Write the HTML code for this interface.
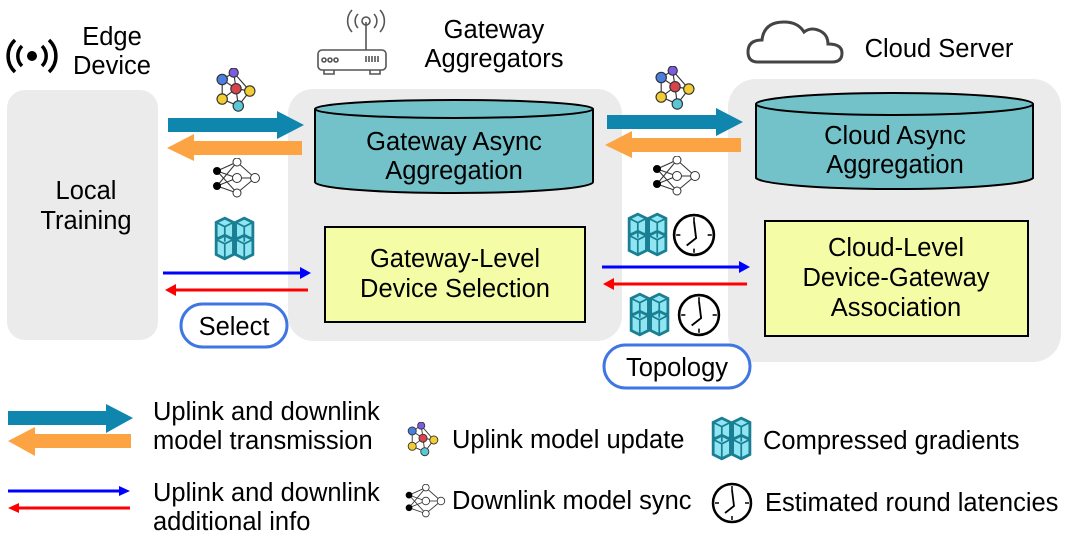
<!DOCTYPE html>
<html><head><meta charset="utf-8"><style>
html,body{margin:0;padding:0;background:#fff;}
svg text{font-family:"Liberation Sans",Arial,sans-serif;fill:#000;font-size:25.5px;}
</style></head><body>
<svg width="1066" height="537" viewBox="0 0 1066 537" xmlns="http://www.w3.org/2000/svg">
<defs>
<symbol id="cnet" viewBox="0 0 40 40">
<g stroke="#333" stroke-width="1" fill="none">
<line x1="8" y1="10" x2="20" y2="18"/><line x1="8" y1="10" x2="18" y2="4"/><line x1="18" y1="4" x2="20" y2="18"/><line x1="18" y1="4" x2="32" y2="20"/>
<line x1="20" y1="18" x2="32" y2="20"/><line x1="20" y1="18" x2="8" y2="27"/><line x1="20" y1="18" x2="22" y2="33"/><line x1="8" y1="27" x2="22" y2="33"/><line x1="32" y1="20" x2="22" y2="33"/><line x1="8" y1="10" x2="8" y2="27"/>
</g>
<g stroke="#333" stroke-width="1">
<circle cx="8" cy="10" r="4.5" fill="#4a7fe0"/><circle cx="18" cy="4" r="4" fill="#7b5be0"/><circle cx="20" cy="18" r="4.5" fill="#d9434b"/>
<circle cx="32" cy="20" r="4.5" fill="#f2cd32"/><circle cx="8" cy="27" r="4.5" fill="#f2cd32"/><circle cx="22" cy="33" r="4.5" fill="#5ac7d6"/>
</g></symbol>
<symbol id="bnet" viewBox="0 0 50 40">
<g stroke="#333" stroke-width="1" fill="none">
<line x1="6" y1="13" x2="26" y2="4"/><line x1="6" y1="13" x2="26" y2="20"/><line x1="6" y1="13" x2="26" y2="35"/>
<line x1="6" y1="28" x2="26" y2="4"/><line x1="6" y1="28" x2="26" y2="20"/><line x1="6" y1="28" x2="26" y2="35"/>
<line x1="26" y1="4" x2="44" y2="20"/><line x1="26" y1="20" x2="44" y2="20"/><line x1="26" y1="35" x2="44" y2="20"/>
</g>
<circle cx="6" cy="13" r="4" fill="#000"/><circle cx="6" cy="28" r="4" fill="#000"/>
<g fill="#fff" stroke="#333"><circle cx="26" cy="4" r="4"/><circle cx="26" cy="20" r="4.5"/><circle cx="26" cy="35" r="4"/><circle cx="44" cy="20" r="4.5"/></g>
</symbol>
<g id="cubesg">
<g stroke="#1a7f92" stroke-width="2.6" fill="#8fe6f2">
<path d="M2 6 L10 2 L18 6 L18 20 L10 24 L2 20 Z"/><path d="M20 6 L28 2 L36 6 L36 20 L28 24 L20 20 Z"/>
<path d="M2 22 L10 18 L18 22 L18 36 L10 40 L2 36 Z"/><path d="M20 22 L28 18 L36 22 L36 36 L28 40 L20 36 Z"/>
</g>
<g stroke="#1a7f92" stroke-width="1.6" fill="none">
<path d="M2 6 L10 10 L18 6 M10 10 V24"/><path d="M20 6 L28 10 L36 6 M28 10 V24"/><path d="M2 22 L10 26 L18 22 M10 26 V40"/><path d="M20 22 L28 26 L36 22 M28 26 V40"/>
</g></g>
<symbol id="clock" viewBox="0 0 42 42">
<circle cx="21" cy="21" r="19" fill="#fff" stroke="#000" stroke-width="2.5"/>
<g stroke="#000" stroke-width="1.5"><line x1="21" y1="4" x2="21" y2="8"/><line x1="21" y1="34" x2="21" y2="38"/><line x1="4" y1="21" x2="8" y2="21"/><line x1="34" y1="21" x2="38" y2="21"/></g>
<polyline points="21,8 23,24 14,31" fill="none" stroke="#000" stroke-width="1.8"/>
</symbol>
</defs>

<rect x="7" y="90" width="151" height="250" rx="18" fill="#ebebeb"/>
<rect x="288" y="89" width="334" height="252" rx="25" fill="#ebebeb"/>
<rect x="728" y="79" width="333" height="283" rx="28" fill="#ebebeb"/>

<circle cx="32" cy="56" r="5" fill="#000"/>
<path d="M22 46 A14 14 0 0 0 22 66 M42 46 A14 14 0 0 1 42 66" fill="none" stroke="#000" stroke-width="3.5"/>
<path d="M15 40 A22 22 0 0 0 15 72 M49 40 A22 22 0 0 1 49 72" fill="none" stroke="#000" stroke-width="3.5"/>
<text x="112" y="45" text-anchor="middle">Edge</text>
<text x="112" y="74" text-anchor="middle">Device</text>
<text x="86" y="199" text-anchor="middle">Local</text>
<text x="86" y="229" text-anchor="middle">Training</text>

<g fill="none" stroke="#555" stroke-width="1.6">
<rect x="318" y="50" width="68" height="20" rx="4"/>
<line x1="366" y1="22" x2="366" y2="50"/><circle cx="366" cy="21" r="4"/>
<path d="M358 14 A10 10 0 0 0 358 28 M374 14 A10 10 0 0 1 374 28 M352 10 A16 16 0 0 0 352 32 M380 10 A16 16 0 0 1 380 32"/>
<circle cx="324" cy="60" r="2"/><circle cx="330" cy="60" r="2"/><circle cx="336" cy="60" r="2"/>
<path d="M366 56 v6 M369 56 v6 M372 56 v6 M375 56 v6 M378 56 v6"/>
<path d="M324 70 v4 h10 v-4 M370 70 v4 h10 v-4"/>
</g>
<text x="494" y="38" text-anchor="middle">Gateway</text>
<text x="494" y="67" text-anchor="middle">Aggregators</text>

<path d="M758 62 Q748 62 748 52 Q748 40 762 40 Q764 22 784 22 Q798 22 804 32 Q812 26 822 32 Q828 36 828 44 Q842 44 842 53 Q842 62 832 62 Z" fill="none" stroke="#444" stroke-width="3"/>
<text x="939" y="57" text-anchor="middle">Cloud Server</text>

<path d="M315 109 V182 A139 11 0 0 0 593 182 V109" fill="#73c2c9" stroke="#000" stroke-width="2"/>
<ellipse cx="454" cy="109" rx="139" ry="9" fill="#73c2c9" stroke="#000" stroke-width="2"/>
<text x="454" y="150" text-anchor="middle">Gateway Async</text>
<text x="454" y="179" text-anchor="middle">Aggregation</text>

<path d="M756 104 V178 A139 12 0 0 0 1033 178 V104" fill="#73c2c9" stroke="#000" stroke-width="2"/>
<ellipse cx="894.5" cy="104" rx="138.5" ry="11" fill="#73c2c9" stroke="#000" stroke-width="2"/>
<text x="895" y="144" text-anchor="middle">Cloud Async</text>
<text x="895" y="173" text-anchor="middle">Aggregation</text>

<rect x="325" y="227" width="260" height="95" fill="#f5fca6" stroke="#000" stroke-width="2"/>
<text x="455" y="267" text-anchor="middle">Gateway-Level</text>
<text x="455" y="297" text-anchor="middle">Device Selection</text>
<rect x="765" y="221" width="263" height="115" fill="#f5fca6" stroke="#000" stroke-width="2"/>
<text x="896" y="256" text-anchor="middle">Cloud-Level</text>
<text x="896" y="286" text-anchor="middle">Device-Gateway</text>
<text x="896" y="316" text-anchor="middle">Association</text>

<polygon points="168,118 277,118 277,111 304,125 277,139 277,132 168,132" fill="#0e86ad"/>
<polygon points="302,141 194,141 194,134 167,148 194,161 194,155 302,155" fill="#fca443"/>
<polygon points="607,115 716,115 716,108 743,122 716,136 716,129 607,129" fill="#0e86ad"/>
<polygon points="741,138 632,138 632,131 605,145 632,158 632,152 741,152" fill="#fca443"/>

<line x1="163" y1="273" x2="301" y2="273" stroke="#0000ff" stroke-width="3"/><polygon points="300,267 311,273 300,279" fill="#0000ff"/>
<line x1="176" y1="290" x2="308" y2="290" stroke="#ff0000" stroke-width="3"/><polygon points="176,284 165,290 176,296" fill="#ff0000"/>
<line x1="602" y1="267" x2="740" y2="267" stroke="#0000ff" stroke-width="3"/><polygon points="739,261 750,267 739,273" fill="#0000ff"/>
<line x1="614" y1="284" x2="747" y2="284" stroke="#ff0000" stroke-width="3"/><polygon points="614,278 603,284 614,290" fill="#ff0000"/>

<use href="#cnet" x="212" y="68" width="48" height="46"/>
<use href="#bnet" x="211" y="158" width="50" height="40"/>
<use href="#cubesg" transform="translate(214,216) scale(1.08,1.07)"/>
<use href="#cnet" x="651" y="66" width="48" height="46"/>
<use href="#bnet" x="651" y="156" width="50" height="40"/>
<use href="#cubesg" transform="translate(627,212) scale(1.08,1.07)"/>
<use href="#clock" x="672" y="213" width="44" height="44"/>
<use href="#cubesg" transform="translate(629,292) scale(1.08,1.07)"/>
<use href="#clock" x="677" y="293" width="44" height="44"/>

<rect x="181" y="304" width="106" height="43" rx="21.5" fill="#fff" stroke="#3f76e4" stroke-width="3"/>
<text x="234" y="335" text-anchor="middle">Select</text>
<rect x="604" y="345" width="146" height="43" rx="21.5" fill="#fff" stroke="#3f76e4" stroke-width="3"/>
<text x="677" y="376" text-anchor="middle">Topology</text>

<polygon points="8,411 106,411 106,404 133,418 106,433 106,425 8,425" fill="#0e86ad"/>
<polygon points="131,434 35,434 35,427 8,441 35,456 35,448 131,448" fill="#fca443"/>
<text x="153" y="420">Uplink and downlink</text>
<text x="153" y="449">model transmission</text>
<line x1="8" y1="491" x2="120" y2="491" stroke="#0000ff" stroke-width="3"/><polygon points="119,486 130,491 119,496" fill="#0000ff"/>
<line x1="18" y1="508" x2="130" y2="508" stroke="#ff0000" stroke-width="3"/><polygon points="19,503 8,508 19,513" fill="#ff0000"/>
<text x="153" y="501">Uplink and downlink</text>
<text x="153" y="530">additional info</text>
<use href="#cnet" x="405" y="422" width="36" height="36"/>
<text x="452" y="448">Uplink model update</text>
<use href="#bnet" x="404" y="484" width="42" height="34"/>
<text x="452" y="509">Downlink model sync</text>
<use href="#cubesg" transform="translate(711,416) scale(1.08,1.07)"/>
<text x="763" y="449">Compressed gradients</text>
<use href="#clock" x="711" y="482" width="42" height="42"/>
<text x="765" y="511">Estimated round latencies</text>
</svg>
</body></html>
